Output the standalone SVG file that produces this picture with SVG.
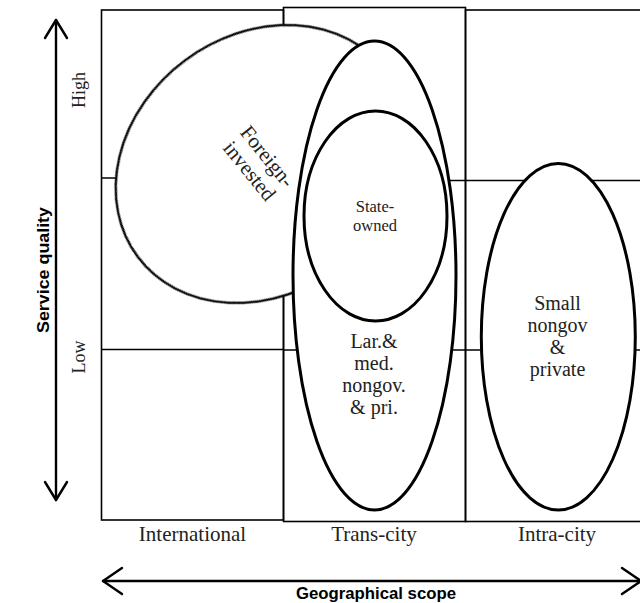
<svg xmlns="http://www.w3.org/2000/svg" width="640" height="603" viewBox="0 0 640 603">
  <defs>
    <style>
      .grid { fill: none; stroke: #000; stroke-width: 1.6; }
      .row { stroke: #000; stroke-width: 1.6; fill: none; }
      .blob { fill: #fff; stroke: #000; stroke-width: 3; }
      .axis { stroke: #000; stroke-width: 2.4; fill: none; stroke-linecap: round; stroke-linejoin: round; }
      .lbl { font-family: "Liberation Serif", "Times New Roman", serif; fill: #222; text-anchor: middle; }
      .ttl { font-family: "Liberation Sans", Arial, sans-serif; font-weight: bold; fill: #000; text-anchor: middle; }
    </style>
    <!-- the foreign-invested outline is printed slightly soft -->
    <filter id="soft" x="-5%" y="-5%" width="110%" height="110%">
      <feGaussianBlur stdDeviation="0.35"/>
    </filter>
  </defs>

  <!-- background -->
  <rect x="0" y="0" width="640" height="603" fill="#fff"/>

  <!-- table grid -->
  <g id="grid">
    <rect class="grid" x="101.5" y="10" width="182" height="510"/>
    <rect class="grid" x="283.5" y="7.5" width="182" height="514"/>
    <rect class="grid" x="465.5" y="10" width="180" height="511.5"/>
    <line class="row" x1="101.5" y1="178" x2="283.5" y2="178"/>
    <line class="row" x1="101.5" y1="349.5" x2="283.5" y2="349.5" stroke-width="2.6"/>
    <line class="row" x1="283.5" y1="180.5" x2="640" y2="180.5"/>
    <line class="row" x1="283.5" y1="350" x2="640" y2="350"/>
  </g>

  <!-- groups of firms -->
  <g id="foreign-invested">
    <ellipse cx="262" cy="164" rx="155" ry="129" transform="rotate(-36.8 262 164)" fill="#fff" stroke="#111" stroke-width="2.6" filter="url(#soft)"/>
    <g transform="translate(258 164) rotate(51)">
      <text class="lbl" x="0" y="-5" font-size="21" fill="#333">Foreign-</text>
      <text class="lbl" x="0" y="18" font-size="21" fill="#333">invested</text>
    </g>
  </g>

  <g id="large-medium">
    <ellipse class="blob" cx="374.5" cy="275.5" rx="81.5" ry="234.5"/>
    <text class="lbl" x="374" y="348" font-size="20">Lar.&amp;</text>
    <text class="lbl" x="374" y="370" font-size="20">med.</text>
    <text class="lbl" x="374" y="392" font-size="20">nongov.</text>
    <text class="lbl" x="374" y="413.5" font-size="20">&amp; pri.</text>
  </g>

  <g id="state-owned">
    <ellipse class="blob" cx="375.5" cy="216" rx="71.5" ry="105"/>
    <text class="lbl" x="375" y="212" font-size="16.5">State-</text>
    <text class="lbl" x="375" y="231" font-size="16.5">owned</text>
  </g>

  <g id="small-private">
    <ellipse class="blob" cx="558.3" cy="336.7" rx="77" ry="173.3"/>
    <text class="lbl" x="557.5" y="310" font-size="20">Small</text>
    <text class="lbl" x="557.5" y="332" font-size="20">nongov</text>
    <text class="lbl" x="557.5" y="354" font-size="20">&amp;</text>
    <text class="lbl" x="557.5" y="376" font-size="20">private</text>
  </g>

  <!-- column headings -->
  <g id="scope-labels">
    <text class="lbl" x="192.5" y="541" font-size="21" fill="#111">International</text>
    <text class="lbl" x="374" y="541" font-size="21" fill="#111">Trans-city</text>
    <text class="lbl" x="557" y="541" font-size="21" fill="#111">Intra-city</text>
  </g>

  <!-- row headings -->
  <g id="quality-labels">
    <text class="lbl" transform="translate(85 90) rotate(-90)" font-size="18" fill="#111">High</text>
    <text class="lbl" transform="translate(85 357) rotate(-90)" font-size="18" fill="#111">Low</text>
  </g>

  <!-- axes -->
  <g id="connectors">
    <line class="axis" x1="56" y1="20" x2="56" y2="500"/>
    <polyline class="axis" points="45,38 56,20 67,38"/>
    <polyline class="axis" points="45,482 56,500 67,482"/>
    <line class="axis" x1="103" y1="581" x2="641" y2="581"/>
    <polyline class="axis" points="122,568 103,581 122,594"/>
    <polyline class="axis" points="622,568 641,581 622,594"/>
  </g>

  <g id="axis-titles">
    <text class="ttl" transform="translate(49 270) rotate(-90)" font-size="16" textLength="126" lengthAdjust="spacingAndGlyphs">Service quality</text>
    <text class="ttl" x="376" y="599" font-size="16" textLength="160" lengthAdjust="spacingAndGlyphs">Geographical scope</text>
  </g>
</svg>
